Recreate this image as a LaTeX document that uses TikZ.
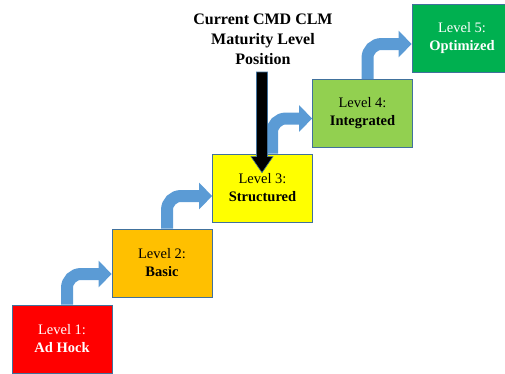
\documentclass[tikz,border=0pt]{standalone}
\usepackage{fontspec}
\setmainfont{Liberation Serif}
\usetikzlibrary{arrows.meta,calc}
\definecolor{boxline}{HTML}{41719C}
\definecolor{stairblue}{HTML}{5B9BD5}
\definecolor{lvlA}{HTML}{FF0000}
\definecolor{lvlB}{HTML}{FFC000}
\definecolor{lvlC}{HTML}{FFFF00}
\definecolor{lvlD}{HTML}{92D050}
\definecolor{lvlE}{HTML}{00B050}
\tikzset{
  lvl/.style={draw=boxline, line width=0.8pt, minimum width=100pt, minimum height=68pt,
    inner sep=0pt, align=center, font=\fontsize{14.5}{18}\selectfont},
  stair/.style={draw=stairblue, line width=12pt, rounded corners=14pt,
    -{Triangle[length=13pt,width=26pt]}},
  titletext/.style={align=center, font=\fontsize{16}{20}\selectfont\bfseries, inner sep=0pt},
  pointer/.style={fill=black, draw=boxline, line width=0.6pt},
}
\begin{document}
\begin{tikzpicture}[x=1pt,y=-1pt]
\useasboundingbox (0,0) rectangle (505,373);
\node[lvl, fill=lvlA, text=white] (b1) at (62,339) {Level 1:\\\textbf{Ad Hock}};
\node[lvl, fill=lvlB] (b2) at (162,263) {Level 2:\\\textbf{Basic}};
\node[lvl, fill=lvlC] (b3) at (262.5,188) {Level 3:\\\textbf{Structured}};
\node[lvl, fill=lvlD] (b4) at (362.5,113.5) {Level 4:\\\textbf{Integrated}};
\node[lvl, fill=lvlE, text=white] (b5) at (462,38) {Level 5:\\\textbf{Optimized}};
\draw[stair] ([xshift=5pt]b1.north) |- ([yshift=-11pt]b2.west);
\draw[stair] ([xshift=5pt]b2.north) |- ([yshift=-8pt]b3.west);
\draw[stair] ([xshift=9.5pt]b3.north) |- ([yshift=-5pt]b4.west);
\draw[stair] ([xshift=5pt]b4.north) |- ([yshift=-6pt]b5.west);
\node[titletext] (title) at (263,39) {Current CMD CLM\\Maturity Level\\Position};
\coordinate (ta) at (262,72);
\coordinate (tip) at ([xshift=-0.5pt,yshift=-19pt]b3.north);
\filldraw[pointer] ($(ta)+(-5.5,0)$) -- ($(ta)+(5.5,0)$) -- ($(tip)+(5.5,-16)$)
  -- ($(tip)+(11,-16)$) -- (tip) -- ($(tip)+(-11,-16)$) -- ($(tip)+(-5.5,-16)$) -- cycle;
\end{tikzpicture}
\end{document}
